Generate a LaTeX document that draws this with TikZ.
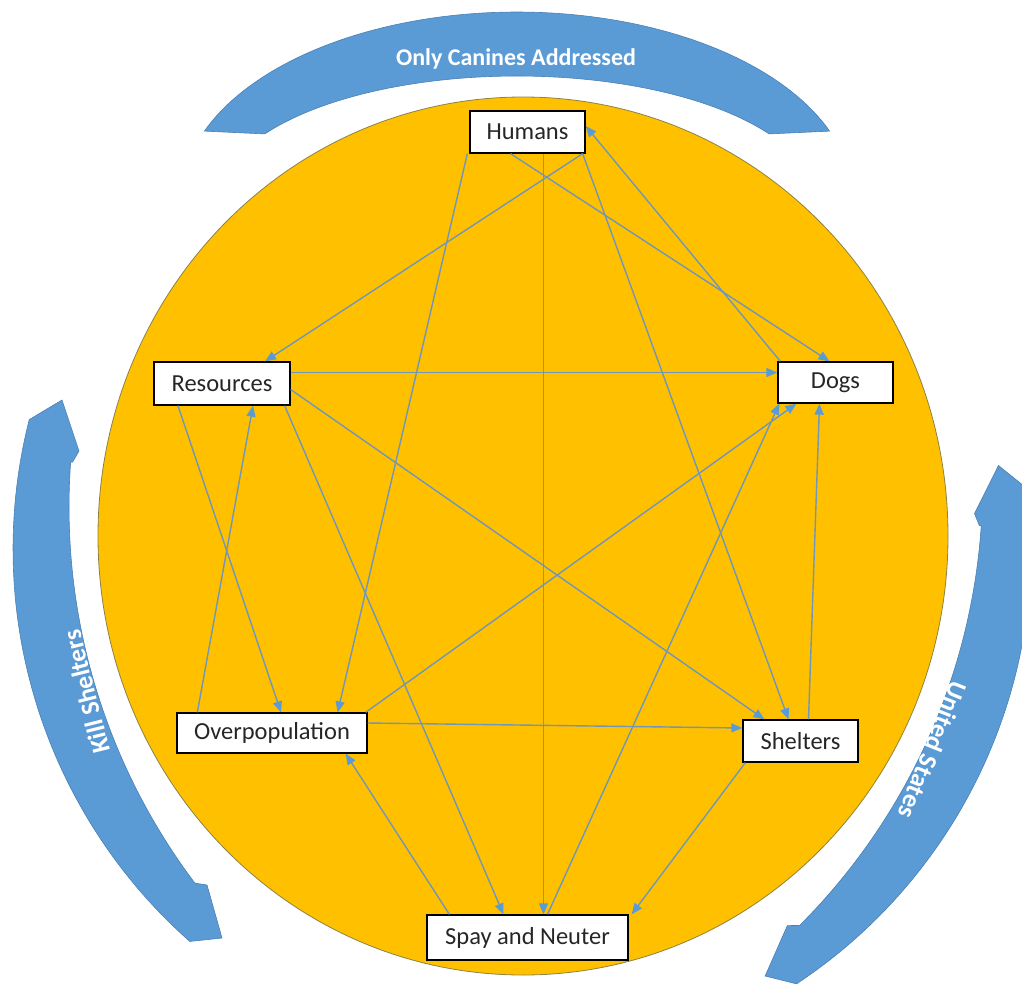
\documentclass[tikz,border=0pt]{standalone}
\usepackage{fontspec}
\setmainfont{Carlito}
\usetikzlibrary{arrows.meta}
\definecolor{gold}{HTML}{FFC000}
\definecolor{arcblue}{HTML}{5B9BD5}
\definecolor{arcedge}{HTML}{4A80B4}
\definecolor{linkc}{RGB}{112,150,185}
\definecolor{tipc}{HTML}{5B9BD5}
\definecolor{circedge}{RGB}{140,130,70}
\begin{document}
\begin{tikzpicture}[x=1pt,y=-1pt,
  box/.style={draw=black, fill=white, line width=1.3pt, inner sep=0pt, text=black!85,
    font=\fontsize{24.5}{27}\selectfont},
  link/.style={draw=linkc, line width=1.4pt, -{Triangle[length=11pt,width=9pt,color=tipc]}},
  banner/.style={fill=arcblue, draw=arcedge, line width=0.6pt},
  bannertext/.style={text=white, font=\bfseries\fontsize{24}{27}\selectfont},
  sidetext/.style={text=white, font=\bfseries\fontsize{26}{29}\selectfont},
  sideband/.style={insert path={(62,400) -- (79,451) -- (72.6,462)
    -- plot[domain=184.1:143, samples=60] ({694+625*cos(\x)},{507+625*sin(\x)})
    -- (207,885) -- (222,938)
    -- plot[domain=131.5:194.3, samples=60] ({537+524*cos(\x)},{549+524*sin(\x)})
    -- cycle}}]
\useasboundingbox (0,0) rectangle (1022,983);
\clip (0,0) rectangle (1022,983);
% big circle
\path[fill=gold, draw=circedge, line width=0.8pt] (523,536) ellipse [x radius=425pt, y radius=439pt];
% top banner
\path[banner] plot[domain=201.5:338.5, samples=80] ({517+336*cos(\x)},{200+188*sin(\x)})
  -- plot[domain=327.8:212.2, samples=80] ({517+298*cos(\x)},{200+124*sin(\x)}) -- cycle;
\node[bannertext] (tCan) at (516,59) {Only Canines Addressed};
% left banner
\path[banner, sideband];
\node[sidetext, rotate=104] (tKill) at (86,692) {Kill Shelters};
% right banner (mirror of the left one)
\begin{scope}[shift={(523,536)}, rotate=-8, xscale=-1, shift={(-523,-536)}]
\path[banner, sideband];
\end{scope}
\node[sidetext, rotate=-112] (tUS) at (933,750) {United States};
% boxes
\node[box, minimum width=115pt, minimum height=42pt] (hum) at (527.5,132) {Humans};
\node[box, minimum width=136pt, minimum height=43pt] (res) at (222,383.5) {Resources};
\node[box, minimum width=115pt, minimum height=41pt] (dog) at (835.5,382.5) {Dogs};
\node[box, minimum width=190pt, minimum height=40pt] (ovp) at (272,733) {Overpopulation};
\node[box, minimum width=115pt, minimum height=42pt] (she) at (800.5,741) {Shelters};
\node[box, minimum width=201pt, minimum height=45pt] (spa) at (527.5,937.5) {Spay and Neuter};
% connectors
\draw[link] ([xshift=-3pt]hum.south east) -- ([xshift=43pt]res.north);
\draw[link] ([xshift=-17pt]hum.south) -- ([xshift=-6pt]dog.north);
\draw[link] ([xshift=3pt]dog.north west) -- ([yshift=6pt]hum.east);
\draw[link] ([xshift=-2pt]hum.south west) -- ([xshift=-30pt]ovp.north east);
\draw[link] ([xshift=16pt]hum.south) -- ([xshift=16pt]spa.north);
\draw[link] ([xshift=-3pt]hum.south east) -- ([xshift=-12pt]she.north);
\draw[link] ([yshift=11pt]res.east) -- ([yshift=10pt]dog.west);
\draw[link] ([yshift=-6pt]res.east) -- ([xshift=22pt]she.north west);
\draw[link] ([xshift=-44pt]res.south) -- ([xshift=9pt]ovp.north);
\draw[link] ([xshift=21pt]ovp.north west) -- ([xshift=31pt]res.south);
\draw[link] ([xshift=-6pt]res.south east) -- ([xshift=-24pt]spa.north);
\draw[link] ([xshift=-2pt]ovp.north east) -- ([xshift=19pt]dog.south west);
\draw[link] ([xshift=20pt]spa.north) -- ([xshift=2pt]dog.south west);
\draw[link] ([xshift=8pt]she.north) -- ([xshift=-16pt]dog.south);
\draw[link] ([xshift=3pt]she.south west) -- ([xshift=3pt]spa.north east);
\draw[link] ([xshift=23pt]spa.north west) -- ([xshift=-22pt]ovp.south east);
\draw[link] ([yshift=10pt]ovp.east) -- ([yshift=13pt]she.west);
\end{tikzpicture}
\end{document}
